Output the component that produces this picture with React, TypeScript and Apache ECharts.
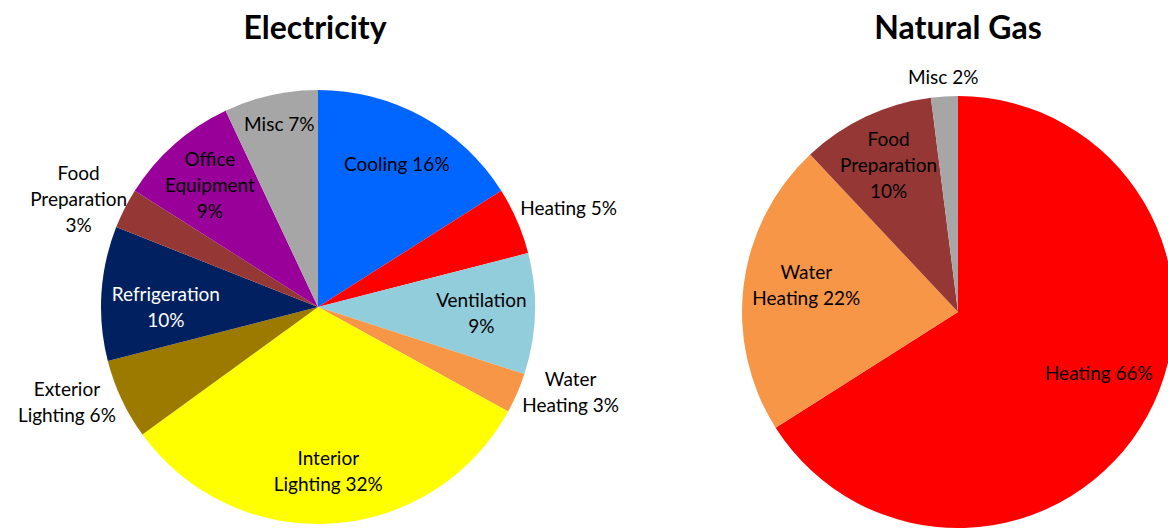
import React, { useEffect, useRef } from "react";
import * as echarts from "echarts";

const elecCategories = [
  "Cooling",
  "Heating",
  "Ventilation",
  "Water Heating",
  "Interior Lighting",
  "Exterior Lighting",
  "Refrigeration",
  "Food Preparation",
  "Office Equipment",
  "Misc",
];
const elecValues = [16, 5, 9, 3, 32, 6, 10, 3, 9, 7];
const elecColors = [
  "#0066FF",
  "#FF0000",
  "#92CDDC",
  "#F79646",
  "#FFFF00",
  "#9C7A00",
  "#002060",
  "#953735",
  "#990099",
  "#A6A6A6",
];
const elecOutside = ["Heating", "Water Heating", "Exterior Lighting", "Food Preparation"];
const elecNearEdge = ["Misc"];

const gasCategories = ["Heating", "Water Heating", "Food Preparation", "Misc"];
const gasValues = [66, 22, 10, 2];
const gasColors = ["#FF0000", "#F79646", "#953735", "#A6A6A6"];
const gasOutside = ["Misc"];
const gasNearEdge: string[] = [];

const labelTemplates: Record<string, string> = {
  Cooling: "Cooling {v}",
  Heating: "Heating {v}",
  Ventilation: "Ventilation\n{v}",
  "Water Heating": "Water\nHeating {v}",
  "Interior Lighting": "Interior\nLighting {v}",
  "Exterior Lighting": "Exterior\nLighting {v}",
  Refrigeration: "Refrigeration\n{v}",
  "Food Preparation": "Food\nPreparation\n{v}",
  "Office Equipment": "Office\nEquipment\n{v}",
  Misc: "Misc {v}",
};

const whiteLabels = ["Refrigeration"];

// small label nudges to match the reference's label placement
const elecLabelOffsets: Record<string, [number, number]> = {
  Heating: [1, 9],
  "Water Heating": [3, -24],
  "Exterior Lighting": [-5, -21],
  "Food Preparation": [3, 15],
  Refrigeration: [11, 10],
  Misc: [3, 3],
};
const gasLabelOffsets: Record<string, [number, number]> = {
  "Water Heating": [10, -7],
  Heating: [-2, -18],
};

const FONT = "Lato, 'Open Sans', sans-serif";

function fmt(p: any) {
  const t = labelTemplates[p.name] || "{n} {v}";
  return t.replace("{n}", p.name).replace("{v}", p.value + "%");
}

function buildPie(
  cats: string[],
  vals: number[],
  colors: string[],
  rings: { names: string[]; radius: [number, number] }[],
  offsets: Record<string, [number, number]>,
  center: [number, number],
  r: number
): any[] {
  const base = {
    type: "pie",
    center,
    startAngle: 90,
    clockwise: true,
    silent: true,
    animation: false,
    emphasis: { disabled: true },
    labelLine: { show: false },
    avoidLabelOverlap: false,
  };
  const visible = {
    ...base,
    radius: [0, r],
    label: { show: false },
    data: cats.map((c, i) => ({
      name: c,
      value: vals[i],
      itemStyle: { color: colors[i], borderWidth: 0 },
    })),
  };
  const labelStyle = (c: string) => ({
    color: whiteLabels.includes(c) ? "#FFFFFF" : "#000000",
    fontFamily: FONT,
    fontSize: 19,
    lineHeight: 26,
    textBorderWidth: 0,
    align: "center",
    offset: offsets[c] || [0, 0],
  });
  const labelSeries = rings.map((ring) => ({
    ...base,
    radius: ring.radius,
    z: 3,
    label: { show: true, position: "inside", formatter: fmt },
    data: cats.map((c, i) => ({
      name: c,
      value: vals[i],
      itemStyle: { color: "rgba(0,0,0,0)", borderWidth: 0 },
      label: { show: ring.names.includes(c), ...labelStyle(c) },
    })),
  }));
  return [visible, ...labelSeries];
}

export default function App() {
  const ref = useRef<HTMLDivElement>(null);
  useEffect(() => {
    if (!ref.current) return;
    const chart = echarts.init(ref.current, undefined, { renderer: "svg" });
    const elecInside = elecCategories.filter(
      (c) => !elecOutside.includes(c) && !elecNearEdge.includes(c)
    );
    const gasInside = gasCategories.filter(
      (c) => !gasOutside.includes(c) && !gasNearEdge.includes(c)
    );
    const option: any = {
      animation: false,
      backgroundColor: "#FFFFFF",
      title: [
        {
          text: "Electricity",
          left: 310,
          top: 5,
          textAlign: "center",
          textStyle: { fontFamily: FONT, fontWeight: "bold", fontSize: 32, color: "#000" },
        },
        {
          text: "Natural Gas",
          left: 953,
          top: 5,
          textAlign: "center",
          textStyle: { fontFamily: FONT, fontWeight: "bold", fontSize: 32, color: "#000" },
        },
      ],
      series: [
        ...buildPie(
          elecCategories,
          elecValues,
          elecColors,
          [
            { names: elecInside, radius: [104, 217] },
            { names: elecNearEdge, radius: [160, 216] },
            { names: elecOutside, radius: [232, 306] },
          ],
          elecLabelOffsets,
          [318, 307],
          217
        ),
        ...buildPie(
          gasCategories,
          gasValues,
          gasColors,
          [
            { names: gasInside, radius: [104, 216] },
            { names: gasOutside, radius: [222, 244] },
          ],
          gasLabelOffsets,
          [958, 312],
          216
        ),
      ],
    };
    chart.setOption(option);
    return () => chart.dispose();
  }, []);
  return (
    <div
      ref={ref}
      style={{ position: "fixed", left: 0, top: 0, width: 1168, height: 529 }}
    />
  );
}
